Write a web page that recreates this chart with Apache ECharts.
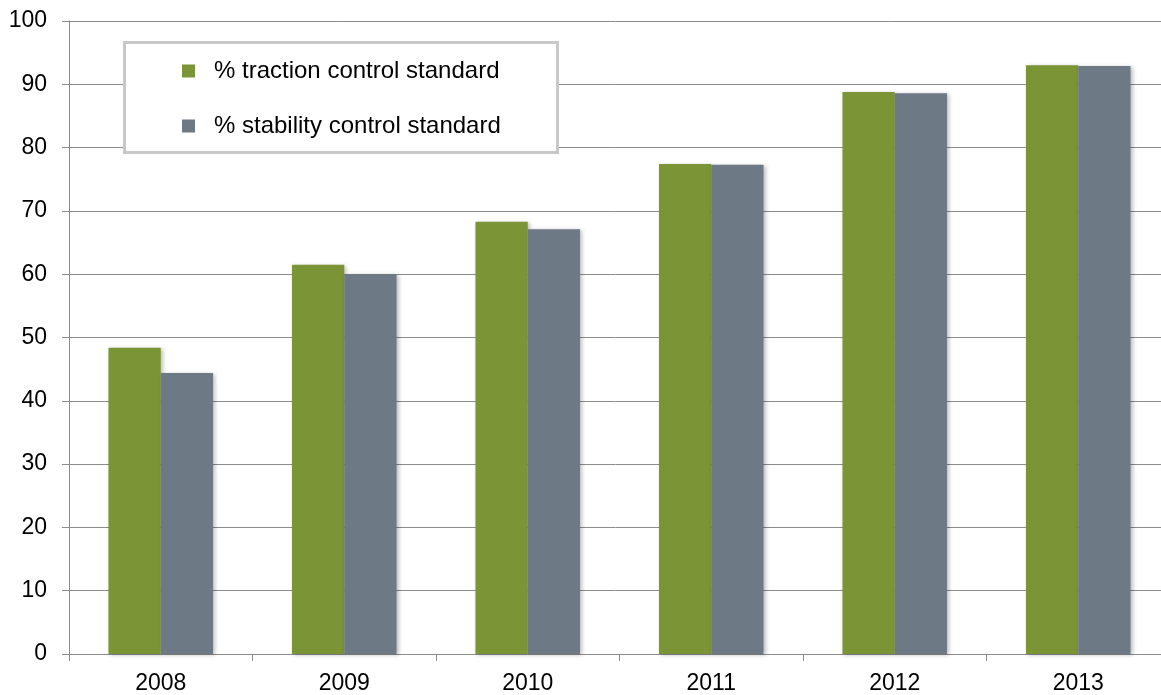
<!DOCTYPE html>
<html>
<head>
<meta charset="utf-8">
<script src="https://cdn.jsdelivr.net/npm/echarts@6/dist/echarts.min.js"></script>
<style>
    html, body {margin: 0; padding: 0; background: #ffffff;}
    #chart {width: 1161px; height: 695px;}
</style>
</head>
<body>
<div id="chart"></div>
<script>
let years = ['2008', '2009', '2010', '2011', '2012', '2013'];
let seriesNames = ['% traction control standard', '% stability control standard'];
let traction = [48.4, 61.5, 68.3, 77.4, 88.8, 93.0];
let stability = [44.4, 60.0, 67.1, 77.3, 88.6, 92.9];
let yTicks = [0, 10, 20, 30, 40, 50, 60, 70, 80, 90, 100];

let myChart = echarts.init(document.getElementById('chart'));
let barShadow = {
    shadowBlur: 4,
    shadowColor: 'rgba(0,0,0,0.25)',
    shadowOffsetX: 2,
    shadowOffsetY: 1
};
let option = {
    animation: false,
    textStyle: {fontFamily: 'Liberation Sans, Arial, sans-serif'},
    grid: {
        left: 69,
        top: 21,
        width: 1101,
        height: 633,
        outerBoundsMode: 'none'
    },
    // legend frame
    graphic: [{
        type: 'rect',
        left: 123,
        top: 41,
        shape: {width: 433, height: 110},
        style: {fill: '#ffffff', stroke: '#c8c8c8', lineWidth: 3},
        z: 5
    }],
    legend: {
        data: seriesNames,
        orient: 'vertical',
        left: 177,
        top: 54,
        itemWidth: 13,
        itemHeight: 13,
        itemGap: 31,
        icon: 'rect',
        z: 10,
        textStyle: {
            fontSize: 24,
            color: '#000000',
            lineHeight: 24,
            padding: [0, 0, 0, 14]
        }
    },
    xAxis: {
        type: 'category',
        data: years,
        axisLine: {lineStyle: {color: '#8c8c8c', width: 1}},
        axisTick: {show: true, length: 7, lineStyle: {color: '#8c8c8c'}},
        axisLabel: {fontSize: 23, color: '#000000', margin: 18}
    },
    yAxis: {
        type: 'value',
        min: yTicks[0],
        max: yTicks[yTicks.length - 1],
        interval: 10,
        axisLine: {show: true, lineStyle: {color: '#8c8c8c', width: 1}},
        axisTick: {show: true, length: 7, lineStyle: {color: '#8c8c8c'}},
        axisLabel: {fontSize: 23, color: '#000000', margin: 22},
        splitLine: {lineStyle: {color: '#8c8c8c', width: 1}}
    },
    series: [
        {
            name: seriesNames[0],
            type: 'bar',
            data: traction,
            barGap: '0%',
            barCategoryGap: '43%',
            itemStyle: Object.assign({color: '#7b9435'}, barShadow)
        },
        {
            name: seriesNames[1],
            type: 'bar',
            data: stability,
            barGap: '0%',
            barCategoryGap: '43%',
            itemStyle: Object.assign({color: '#6d7985'}, barShadow)
        }
    ]
};
myChart.setOption(option);
</script>
</body>
</html>
